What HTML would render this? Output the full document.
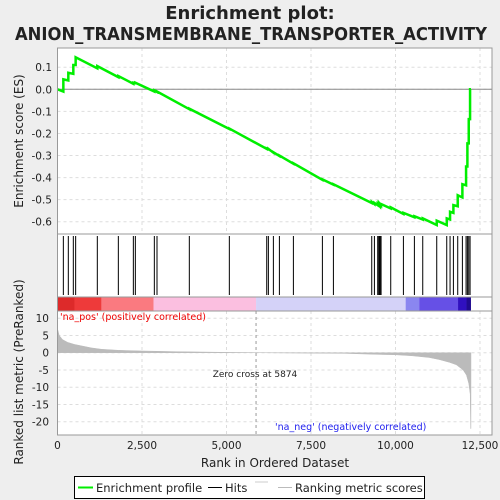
<!DOCTYPE html>
<html><head><meta charset="utf-8"><style>
body{margin:0;background:#eeeeee;}
svg{display:block;font-family:"DejaVu Sans","Liberation Sans",sans-serif;}
</style></head><body>
<svg id="c" width="500" height="500"></svg>
<script>
const hitRanks=[173,320,468,537,1178,1800,2244,2303,2865,2944,3900,5084,6190,6239,6387,6565,6979,7837,8163,9297,9376,9474,9504,9524,9544,9573,9859,10234,10559,10806,11220,11516,11614,11713,11841,11979,12088,12127,12167,12206];
const esBefore=[-0.01,0.04,0.07,0.11,0.095,0.055,0.025,0.028,-0.01,-0.012,-0.09,-0.18,-0.27,-0.272,-0.287,-0.302,-0.337,-0.41,-0.432,-0.515,-0.52,-0.525,-0.525,-0.525,-0.525,-0.525,-0.54,-0.565,-0.58,-0.59,-0.615,-0.615,-0.59,-0.56,-0.53,-0.49,-0.435,-0.35,-0.245,-0.135];
const esAfter=[0.045,0.075,0.11,0.145,0.105,0.06,0.03,0.03,-0.005,-0.01,-0.088,-0.178,-0.268,-0.27,-0.285,-0.3,-0.335,-0.408,-0.43,-0.51,-0.515,-0.52,-0.52,-0.52,-0.52,-0.52,-0.535,-0.56,-0.575,-0.585,-0.595,-0.585,-0.555,-0.525,-0.48,-0.43,-0.35,-0.245,-0.135,0.0];
const metricRanks=[0,50,150,300,500,700,1000,1300,1800,2500,3500,5000,5874,7000,8500,9500,10000,10500,11000,11300,11600,11800,12000,12100,12170,12210,12225,12232];
const metricVals=[7,5,3.8,3,2.4,2,1.4,1,0.7,0.5,0.3,0.1,0,-0.1,-0.2,-0.5,-0.6,-0.9,-1.4,-2,-2.8,-3.5,-5,-6.5,-9,-12,-22,-22];
const xTicks=[0,2500,5000,7500,10000,12500];
const esTicks=[0.1,0.0,-0.1,-0.2,-0.3,-0.4,-0.5,-0.6];
const mTicks=[10,5,0,-5,-10,-15,-20];
const N=12233;
const L=57.5,R=492;
const X=r=>L+r*(480-57.5)/12500;
const YE=v=>89.3-v*220.7;
const YM=v=>352.7-v*3.45;
const svg=document.getElementById('c');
const NS='http://www.w3.org/2000/svg';
function mk(t,a,p){const e=document.createElementNS(NS,t);for(const k in a)e.setAttribute(k,a[k]);(p||svg).appendChild(e);return e;}
let t=mk('text',{x:250,y:19,'text-anchor':'middle','font-size':18,'font-weight':'bold',fill:'#222'});t.textContent='Enrichment plot:';

t=mk('text',{x:251,y:40,'text-anchor':'middle','font-size':18,'font-weight':'bold',fill:'#222',textLength:472,lengthAdjust:'spacingAndGlyphs'});t.textContent='ANION_TRANSMEMBRANE_TRANSPORTER_ACTIVITY';

mk('rect',{x:L,y:48,width:R-L,height:387,fill:'#fff',stroke:'none'});
const g=mk('g',{stroke:'#ddd','stroke-dasharray':'3,3','stroke-width':1});

xTicks.forEach(v=>{mk('line',{x1:X(v),x2:X(v),y1:48,y2:234},g);mk('line',{x1:X(v),x2:X(v),y1:311,y2:435},g);});
esTicks.forEach(v=>mk('line',{x1:L,x2:R,y1:YE(v),y2:YE(v)},g));
mTicks.forEach(v=>mk('line',{x1:L,x2:R,y1:YM(v),y2:YM(v)},g));
mk('line',{x1:L,x2:R,y1:YE(0),y2:YE(0),stroke:'#888'});
let pts=[[0,0]];hitRanks.forEach((r,i)=>{pts.push([r,esBefore[i]]);pts.push([r,esAfter[i]]);});pts.push([N,0]);
let es=mk('polyline',{points:pts.map(p=>X(p[0])+','+YE(p[1])).join(' '),fill:'none',stroke:'#00ee00','stroke-width':2.5});

const hg=mk('g',{stroke:'#000','stroke-width':1});

hitRanks.forEach(r=>{const l=mk('line',{x1:X(r),x2:X(r),y1:236,y2:295},hg);});
const cb=[[0,1300,'#ee3a3a'],[1300,2840,'#fa7a80'],[2840,5874,'#fbbfe0'],[5874,10300,'#d4d2f8'],[10300,10700,'#8a86f0'],[10700,11850,'#6650e6'],[11850,12100,'#3010c0'],[12100,N,'#200a90']];
const cg=mk('g',{});
cb.forEach(s=>mk('rect',{x:X(s[0]),y:297,width:X(s[1])-X(s[0]),height:14,fill:s[2]},cg));
mk('rect',{x:X(0),y:297,width:X(500)-X(0),height:14,fill:'#dd2a2a'},cg);
let ap='M'+X(0)+','+YM(0)+' '+metricRanks.map((r,i)=>'L'+X(r)+','+YM(metricVals[i])).join(' ')+' L'+X(N)+','+YM(0)+'Z';
let ar=mk('path',{d:ap,fill:'#bbb',stroke:'#bbb','stroke-width':0.5});

mk('line',{x1:X(5874),x2:X(5874),y1:311,y2:435,stroke:'#999','stroke-dasharray':'3,3'});
t=mk('text',{x:255,y:377,'text-anchor':'middle','font-size':9,fill:'#222'});t.textContent='Zero cross at 5874';

t=mk('text',{x:60,y:320,'font-size':9.5,fill:'#e00'});t.textContent="'na_pos' (positively correlated)";

t=mk('text',{x:275,y:430,'font-size':9.5,fill:'#2020ee'});t.textContent="'na_neg' (negatively correlated)";

[[48,234],[234,297],[297,311],[311,435]].forEach(p=>mk('rect',{x:L,y:p[0],width:R-L,height:p[1]-p[0],fill:'none',stroke:'#999'}));
esTicks.forEach(v=>{const e=mk('text',{x:52,y:YE(v)+4,'text-anchor':'end','font-size':10.5,fill:'#222'});e.textContent=v.toFixed(1);});
mTicks.forEach(v=>{const e=mk('text',{x:49,y:YM(v)+4,'text-anchor':'end','font-size':10.5,fill:'#222'});e.textContent=v;});
xTicks.forEach(v=>{const e=mk('text',{x:X(v),y:449,'text-anchor':'middle','font-size':10.5,fill:'#222'});e.textContent=v.toLocaleString('en-US');});
t=mk('text',{x:275,y:467,'text-anchor':'middle','font-size':12,fill:'#222'});t.textContent='Rank in Ordered Dataset';

t=mk('text',{x:0,y:0,'text-anchor':'middle','font-size':12,fill:'#222',transform:'translate(23,141) rotate(-90)'});t.textContent='Enrichment score (ES)';

t=mk('text',{x:0,y:0,'text-anchor':'middle','font-size':12,fill:'#222',transform:'translate(23,372) rotate(-90)'});t.textContent='Ranked list metric (PreRanked)';

const lg=mk('g',{});
mk('rect',{x:74.5,y:476.5,width:350,height:22,fill:'#fff',stroke:'#000'},lg);
mk('line',{x1:78,x2:93,y1:487.5,y2:487.5,stroke:'#00ee00','stroke-width':2},lg);
let e=mk('text',{x:96,y:492,'font-size':11.5,fill:'#222'},lg);e.textContent='Enrichment profile';
mk('line',{x1:208,x2:222,y1:487.5,y2:487.5,stroke:'#000','stroke-width':1},lg);
e=mk('text',{x:225,y:492,'font-size':11.5,fill:'#222'},lg);e.textContent='Hits';
mk('line',{x1:255,x2:268,y1:482,y2:482,stroke:'#ccc'},lg);
mk('line',{x1:278,x2:292,y1:487.5,y2:487.5,stroke:'#bbb'},lg);
e=mk('text',{x:295,y:492,'font-size':11.5,fill:'#222'},lg);e.textContent='Ranking metric scores';
</script>
</body></html>
